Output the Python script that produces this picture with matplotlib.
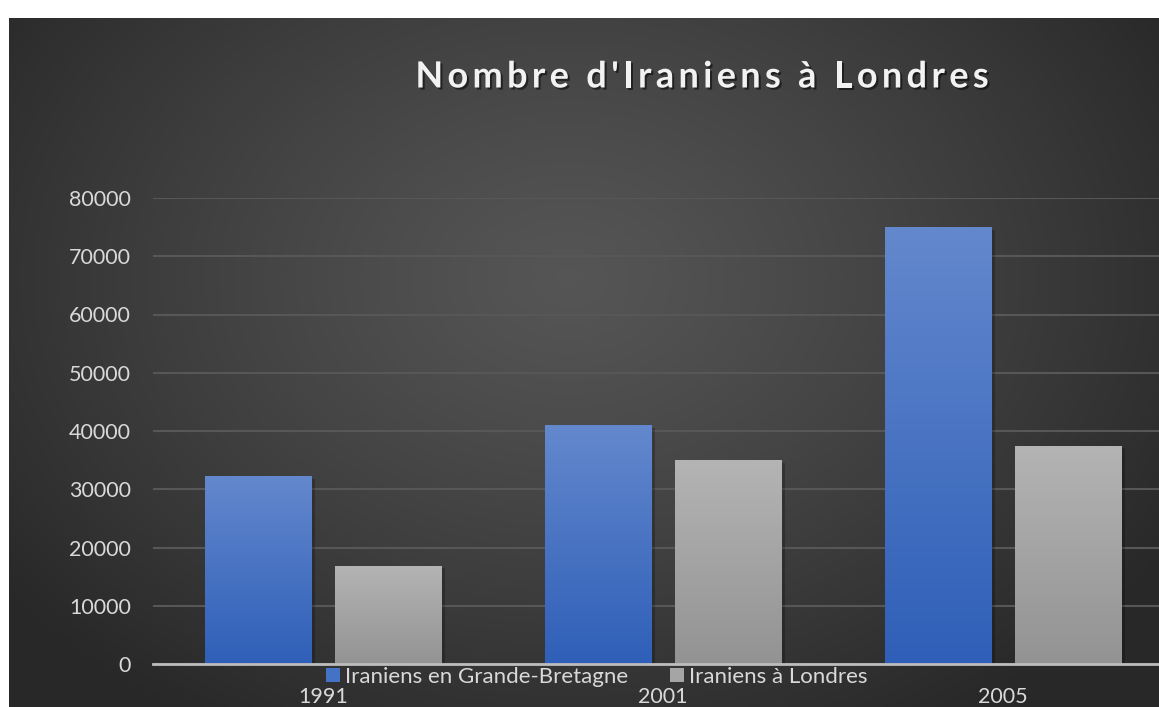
import numpy as np
import matplotlib
matplotlib.use("Agg")
import matplotlib.pyplot as plt
import matplotlib.patheffects as pe
from matplotlib.colors import LinearSegmentedColormap
from matplotlib.font_manager import FontProperties

# data
years = ["1991", "2001", "2005"]
iraniens_gb = [32300, 41000, 75000]
iraniens_londres = [16900, 35000, 37500]
series_names = ["Iraniens en Grande-Bretagne", "Iraniens à Londres"]
y_ticks = [0, 10000, 20000, 30000, 40000, 50000, 60000, 70000, 80000]
title = "Nombre d'Iraniens à Londres"

W, H = 1159, 707
plt.rcParams['font.family'] = ['Lato', 'DejaVu Sans']

fig = plt.figure(figsize=(W / 100, H / 100), dpi=100)
fig.patch.set_facecolor("white")

# dark radial gradient background (chart area starts at x=9, y=18)
bg = fig.add_axes([9 / W, 0, 1 - 9 / W, 1 - 18 / H])
bg.set_axis_off()
gx, gy = np.meshgrid(np.linspace(0, 1150, 400), np.linspace(0, 689, 250))
r = np.sqrt(((gx - 560) / 700) ** 2 + ((gy - 260) / 520) ** 2)
shade = 0.335 - (0.335 - 0.16) * np.clip(r, 0, 1) ** 1.2
bg.imshow(np.dstack([shade] * 3), aspect="auto", extent=[0, 1, 0, 1], origin="upper")
bg.set_xlim(0, 1)
bg.set_ylim(0, 1)

# plot axes: x from 153px, 340px per category (runs past the right edge)
left = 153 / W
width = 1020 / W
bottom = (H - 664) / H
height = 466 / H
ax = fig.add_axes([left, bottom, width, height])
ax.set_facecolor("none")

x = np.arange(len(years))
bw = 0.312
off = 0.191

blue_cmap = LinearSegmentedColormap.from_list("b", ["#2f5fb8", "#6388cd"])
gray_cmap = LinearSegmentedColormap.from_list("g", ["#939393", "#b4b4b4"])

shadow = [pe.SimplePatchShadow(offset=(3, -2), shadow_rgbFace="black", alpha=0.22), pe.Normal()]
bars1 = ax.bar(x - off, iraniens_gb, bw, color="#4472c4", zorder=3, path_effects=shadow,
               label=series_names[0])
bars2 = ax.bar(x + off, iraniens_londres, bw, color="#a5a5a5", zorder=3, path_effects=shadow,
               label=series_names[1])

# vertical gradient inside each bar
grad = np.linspace(1, 0, 256).reshape(-1, 1)
for bars, cmap in [(bars1, blue_cmap), (bars2, gray_cmap)]:
    for b in bars:
        x0, y0 = b.get_x(), b.get_y()
        im = ax.imshow(grad, cmap=cmap, aspect="auto", zorder=4,
                       extent=[x0, x0 + b.get_width(), y0, y0 + b.get_height()])
        im.set_clip_path(b)
ax.set_xlim(-0.5, 2.5)
ax.set_ylim(0, 80000)

# grid and axis line
ax.set_yticks(y_ticks)
ax.yaxis.grid(True, color="#575757", linewidth=1.5, zorder=0)
ax.set_axisbelow(True)
for s in ["top", "right", "left"]:
    ax.spines[s].set_visible(False)
ax.spines["bottom"].set_color("#bdbdbd")
ax.spines["bottom"].set_linewidth(2)
ax.spines["bottom"].set_zorder(5)

ax.set_xticks(x)
ax.set_xticklabels(years)
ax.tick_params(axis="x", length=0, pad=16.5, labelsize=15.5, labelcolor="#d9d9d9")
ax.tick_params(axis="y", length=0, pad=16, labelsize=15.5, labelcolor="#d9d9d9")

# legend sitting between the axis line and the year labels
leg = fig.legend(handles=[bars1, bars2], labels=series_names, loc="center",
                 bbox_to_anchor=(597 / W, (H - 677) / H), ncol=2, frameon=False,
                 fontsize=16, handlelength=0.6, handleheight=0.6, handletextpad=0.25,
                 columnspacing=1.9, labelcolor="#d9d9d9", borderpad=0, borderaxespad=0)
for h in leg.legend_handles:
    h.set_path_effects([])

# letter-spaced bold title, placed one character at a time
fp = FontProperties(family="Lato", weight="bold", size=26)
renderer = fig.canvas.get_renderer()
def text_w(s):
    return renderer.get_text_width_height_descent(s, fp, ismath=False)[0]
spacing = 4.3
bar_w = text_w("|")
starts = [text_w(title[:i] + "|") - bar_w + i * spacing for i in range(len(title))]
total = starts[-1] + text_w(title[-1])
x_start = 702 - total / 2
for ch, sx in zip(title, starts):
    fig.text((x_start + sx) / W, (H - 77) / H, ch, ha="left", va="center",
             fontproperties=fp, color="#f2f2f2",
             path_effects=[pe.withSimplePatchShadow(offset=(1.5, -1.5), shadow_rgbFace="black",
                                                    alpha=0.5)])

fig.savefig("out.png", dpi=100)
